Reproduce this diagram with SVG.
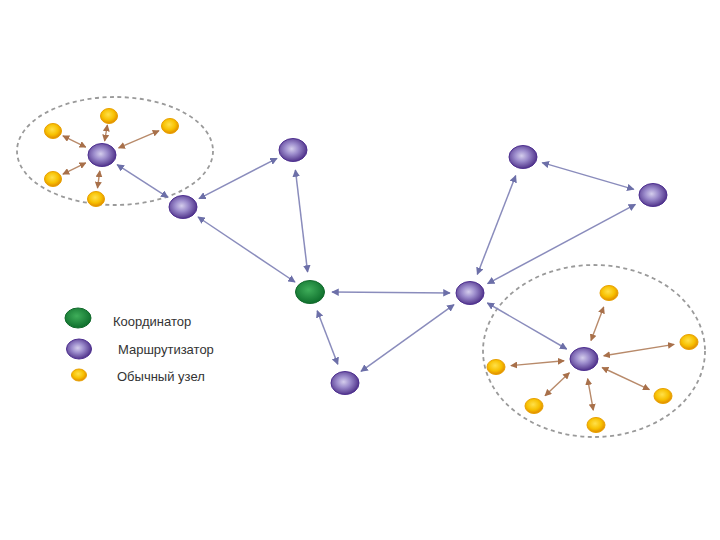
<svg xmlns="http://www.w3.org/2000/svg" width="720" height="540" viewBox="0 0 720 540">
<defs>
<radialGradient id="gR" cx="0.45" cy="0.45" r="0.6">
<stop offset="0" stop-color="#d4cdec"/>
<stop offset="0.4" stop-color="#9c8ccc"/>
<stop offset="1" stop-color="#462782"/>
</radialGradient>
<radialGradient id="gY" cx="0.45" cy="0.4" r="0.6">
<stop offset="0" stop-color="#ffe04a"/>
<stop offset="0.6" stop-color="#f7c000"/>
<stop offset="1" stop-color="#e08a00"/>
</radialGradient>
<radialGradient id="gG" cx="0.45" cy="0.4" r="0.6">
<stop offset="0" stop-color="#3fae5a"/>
<stop offset="1" stop-color="#0e6e2c"/>
</radialGradient>
<marker id="aB" viewBox="0 0 10 10" refX="9" refY="5" markerWidth="5" markerHeight="5" orient="auto-start-reverse">
<path d="M0,0 L10,5 L0,10 z" fill="#6c6fa8"/>
</marker>
<marker id="aO" viewBox="0 0 10 10" refX="9" refY="5" markerWidth="5" markerHeight="5" orient="auto-start-reverse">
<path d="M0,0 L10,5 L0,10 z" fill="#a8704a"/>
</marker>
</defs>
<style>
.cl{fill:none;stroke:#9a9a9a;stroke-width:1.8;stroke-dasharray:4 3.5}
.lb{stroke:#8a8cbc;stroke-width:1.5;fill:none;marker-start:url(#aB);marker-end:url(#aB)}
.lo{stroke:#b88a6a;stroke-width:1.4;fill:none;marker-start:url(#aO);marker-end:url(#aO)}
.r{fill:url(#gR);stroke:#4e3090;stroke-width:1}
.y{fill:url(#gY);stroke:#e8a000;stroke-width:1}
.g{fill:url(#gG);stroke:#126a2c;stroke-width:1}
.t{font-family:"Liberation Sans",Arial,sans-serif;font-size:13px;fill:#333}
</style>
<rect width="720" height="540" fill="#ffffff"/>
<g id="clusters">
<ellipse class="cl" cx="115" cy="151" rx="98" ry="54"/>
<ellipse class="cl" cx="594" cy="351" rx="111" ry="86"/>
</g>
<g id="connectors">
<line class="lo" x1="104.6" y1="141" x2="107.4" y2="125"/>
<line class="lo" x1="118.6" y1="147.9" x2="159" y2="130.7"/>
<line class="lo" x1="85.8" y1="147.1" x2="62.9" y2="135.8"/>
<line class="lo" x1="85.8" y1="162.9" x2="62.9" y2="174.2"/>
<line class="lo" x1="99.8" y1="170.9" x2="97.5" y2="188.1"/>
<line class="lb" x1="117.1" y1="164.7" x2="167.9" y2="197.3"/>
<line class="lb" x1="199" y1="198.7" x2="277" y2="158.3"/>
<line class="lb" x1="198" y1="217" x2="295" y2="282"/>
<line class="lb" x1="295.4" y1="170" x2="307.6" y2="272"/>
<line class="lb" x1="332" y1="292.1" x2="450" y2="292.9"/>
<line class="lb" x1="317.2" y1="310.7" x2="337.8" y2="364.3"/>
<line class="lb" x1="361" y1="371.3" x2="454" y2="304.7"/>
<line class="lb" x1="477.3" y1="274.4" x2="515.7" y2="175.6"/>
<line class="lb" x1="542.2" y1="162.6" x2="633.8" y2="189.4"/>
<line class="lb" x1="487.6" y1="283.6" x2="635.4" y2="204.4"/>
<line class="lb" x1="487.3" y1="303" x2="566.7" y2="349"/>
<line class="lo" x1="591" y1="340.5" x2="603.7" y2="307"/>
<line class="lo" x1="603.7" y1="355.8" x2="674.2" y2="344.4"/>
<line class="lo" x1="564.1" y1="360.8" x2="510.9" y2="365.6"/>
<line class="lo" x1="569.4" y1="372.7" x2="545" y2="395.7"/>
<line class="lo" x1="587.6" y1="378.7" x2="593.3" y2="410.2"/>
<line class="lo" x1="602.1" y1="367.5" x2="649.4" y2="389.6"/>
</g>
<g id="router-left"><ellipse class="r" cx="102" cy="155" rx="14" ry="11.5"/></g>
<g id="leaf-l1"><ellipse class="y" cx="109" cy="116" rx="8.5" ry="7.5"/></g>
<g id="leaf-l2"><ellipse class="y" cx="170" cy="126" rx="8.5" ry="7.5"/></g>
<g id="leaf-l3"><ellipse class="y" cx="53" cy="131" rx="8.5" ry="7.5"/></g>
<g id="leaf-l4"><ellipse class="y" cx="53" cy="179" rx="8.5" ry="7.5"/></g>
<g id="leaf-l5"><ellipse class="y" cx="96" cy="199" rx="8.5" ry="7.5"/></g>
<g id="router-a"><ellipse class="r" cx="183" cy="207" rx="14" ry="11.5"/></g>
<g id="router-b"><ellipse class="r" cx="293" cy="150" rx="14" ry="11.5"/></g>
<g id="coordinator"><ellipse class="g" cx="310" cy="292" rx="14.5" ry="11.5"/></g>
<g id="router-c"><ellipse class="r" cx="345" cy="383" rx="14" ry="11.5"/></g>
<g id="router-d"><ellipse class="r" cx="470" cy="293" rx="14" ry="11.5"/></g>
<g id="router-e"><ellipse class="r" cx="523" cy="157" rx="14" ry="11.5"/></g>
<g id="router-f"><ellipse class="r" cx="653" cy="195" rx="14" ry="11.5"/></g>
<g id="router-right"><ellipse class="r" cx="584" cy="359" rx="14" ry="11.5"/></g>
<g id="leaf-r1"><ellipse class="y" cx="609" cy="293" rx="9" ry="7.5"/></g>
<g id="leaf-r2"><ellipse class="y" cx="689" cy="342" rx="9" ry="7.5"/></g>
<g id="leaf-r3"><ellipse class="y" cx="496" cy="367" rx="9" ry="7.5"/></g>
<g id="leaf-r4"><ellipse class="y" cx="534" cy="406" rx="9" ry="7.5"/></g>
<g id="leaf-r5"><ellipse class="y" cx="596" cy="425" rx="9" ry="7.5"/></g>
<g id="leaf-r6"><ellipse class="y" cx="663" cy="396" rx="9" ry="7.5"/></g>
<g id="legend">
<ellipse class="g" cx="78" cy="318" rx="13" ry="10"/>
<text class="t" x="113" y="326">Координатор</text>
<ellipse class="r" cx="79" cy="349" rx="12.5" ry="10"/>
<text class="t" x="118" y="354">Маршрутизатор</text>
<ellipse class="y" cx="79" cy="375" rx="7.5" ry="6"/>
<text class="t" x="117" y="381">Обычный узел</text>
</g>
</svg>
